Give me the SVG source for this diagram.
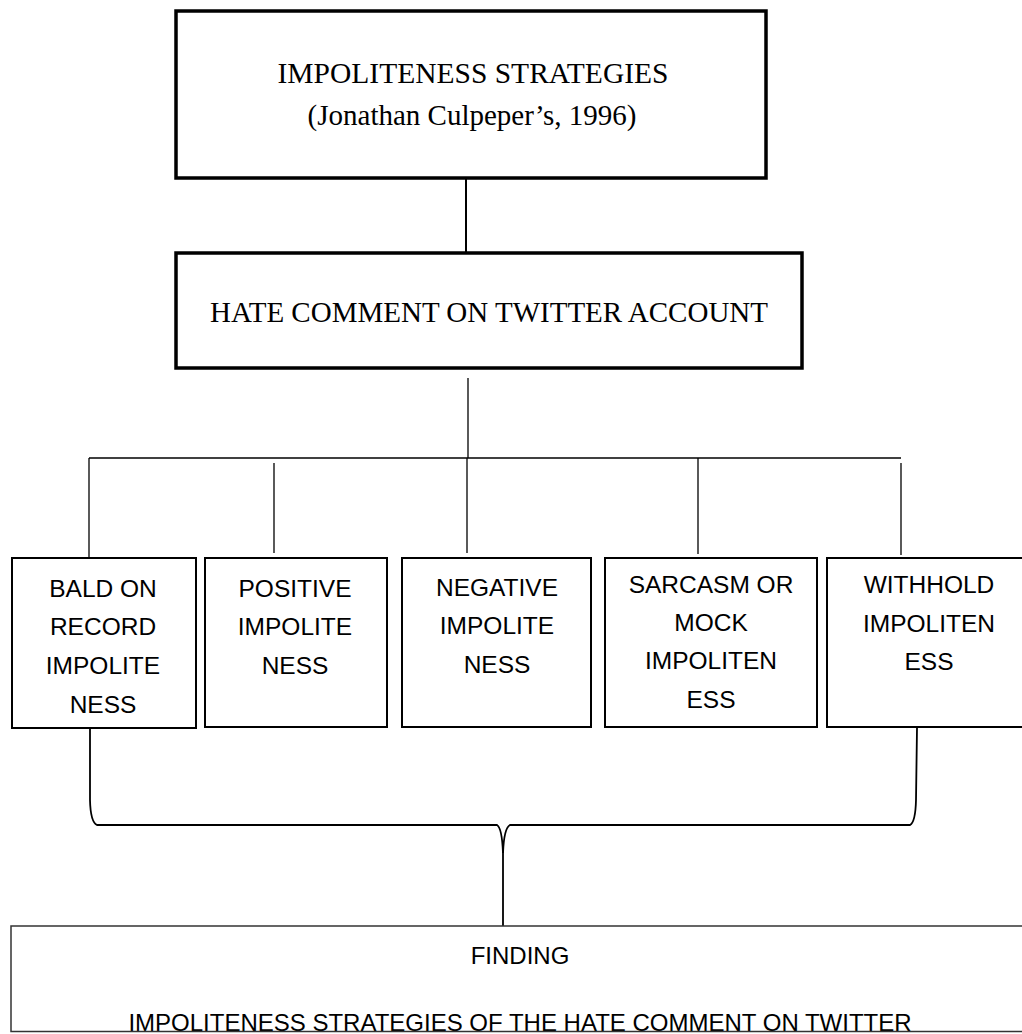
<svg xmlns="http://www.w3.org/2000/svg" width="1022" height="1034" viewBox="0 0 1022 1034">
<style>
.thick{fill:#fff;stroke:#000;stroke-width:3.5}
.box{fill:#fff;stroke:#000;stroke-width:2}
.fbox{fill:none;stroke:#333;stroke-width:1.5}
.ser{font-family:"Liberation Serif","Times New Roman",serif;font-size:29px;fill:#000;text-anchor:middle}
.san{font-family:"Liberation Sans",Arial,sans-serif;font-size:24.5px;fill:#000;text-anchor:middle}
.ln{fill:none;stroke:#000;stroke-width:1.3}
.br{fill:none;stroke:#000;stroke-width:1.8}
</style>
<rect width="1022" height="1034" fill="#fff"/>
<g id="connectors">
<line class="ln" x1="466" y1="178" x2="466" y2="253" style="stroke-width:2"/>
<line class="ln" x1="468" y1="378" x2="468" y2="458"/>
<line class="ln" x1="89" y1="458" x2="901" y2="458"/>
<line class="ln" x1="89" y1="458" x2="89" y2="557"/>
<line class="ln" x1="274" y1="463" x2="274" y2="553"/>
<line class="ln" x1="467" y1="458" x2="467" y2="553"/>
<line class="ln" x1="698" y1="458" x2="698" y2="554"/>
<line class="ln" x1="901" y1="463" x2="901" y2="555"/>
<path class="br" d="M90,728 L90,800 Q90.5,822 97,825 L497,825 Q502,828 503,853 L503,926"/>
<path class="br" d="M917,728 L916,800 Q915.5,822 910,825 L510,825 Q504,828 503,853"/>
</g>
<g id="node-top">
<rect class="thick" x="176" y="11" width="590" height="167"/>
<text class="ser" x="473" y="83" style="font-size:29.5px">IMPOLITENESS STRATEGIES</text>
<text class="ser" x="472" y="125">(Jonathan Culpeper’s, 1996)</text>
</g>
<g id="node-hate">
<rect class="thick" x="176" y="253" width="626" height="115"/>
<text class="ser" x="489" y="322">HATE COMMENT ON TWITTER ACCOUNT</text>
</g>
<g id="node-bald">
<rect class="box" x="12" y="558" width="184" height="170"/>
<text class="san" x="103" y="597">BALD ON</text>
<text class="san" x="103" y="635">RECORD</text>
<text class="san" x="103" y="674">IMPOLITE</text>
<text class="san" x="103" y="713">NESS</text>
</g>
<g id="node-positive">
<rect class="box" x="205" y="558" width="182" height="169"/>
<text class="san" x="295" y="597">POSITIVE</text>
<text class="san" x="295" y="635">IMPOLITE</text>
<text class="san" x="295" y="674">NESS</text>
</g>
<g id="node-negative">
<rect class="box" x="402" y="558" width="189" height="169"/>
<text class="san" x="497" y="596">NEGATIVE</text>
<text class="san" x="497" y="634">IMPOLITE</text>
<text class="san" x="497" y="673">NESS</text>
</g>
<g id="node-sarcasm">
<rect class="box" x="605" y="558" width="212" height="169"/>
<text class="san" x="711" y="593">SARCASM OR</text>
<text class="san" x="711" y="631">MOCK</text>
<text class="san" x="711" y="669">IMPOLITEN</text>
<text class="san" x="711" y="708">ESS</text>
</g>
<g id="node-withhold">
<rect class="box" x="827" y="558" width="200" height="169"/>
<text class="san" x="929" y="593">WITHHOLD</text>
<text class="san" x="929" y="632">IMPOLITEN</text>
<text class="san" x="929" y="670">ESS</text>
</g>
<g id="node-finding">
<rect fill="#fff" x="11" y="926" width="1015" height="106"/>
<text class="san" x="520" y="964" style="font-size:24px">FINDING</text>
<text class="san" x="520" y="1031" style="font-size:24px">IMPOLITENESS STRATEGIES OF THE HATE COMMENT ON TWITTER</text>
<rect class="fbox" x="11" y="926" width="1015" height="105.5"/>
</g>
</svg>
